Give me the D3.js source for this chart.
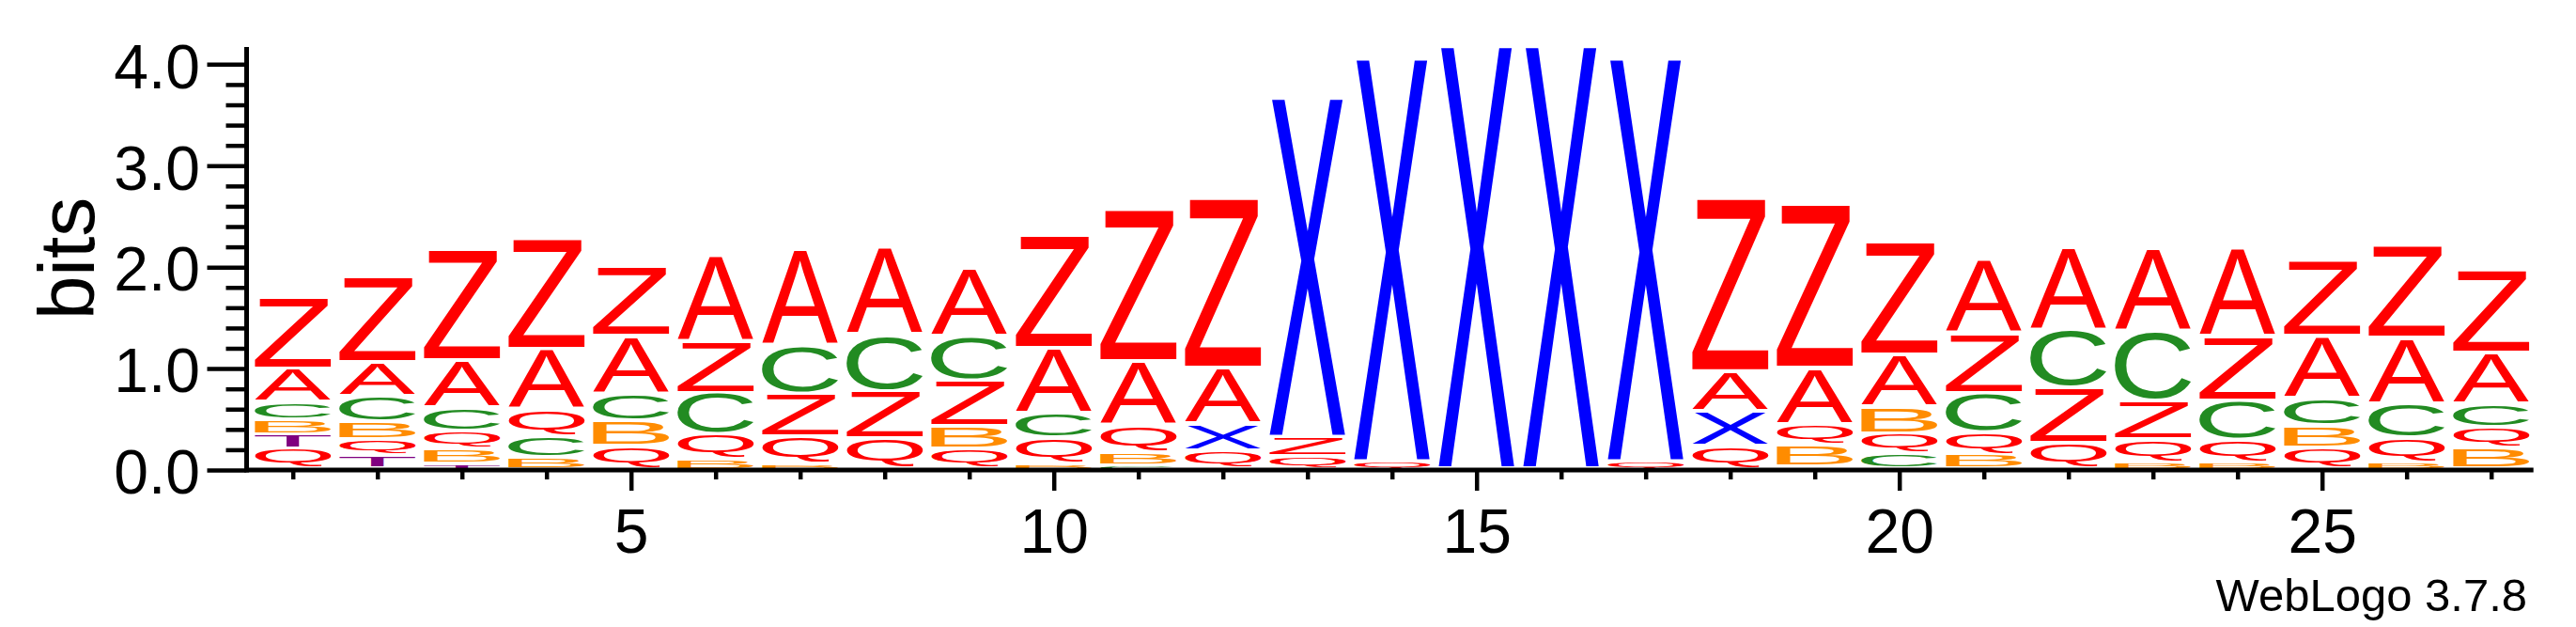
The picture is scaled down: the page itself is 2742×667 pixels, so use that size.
<!DOCTYPE html>
<html>
<head>
<meta charset="utf-8">
<script src="https://cdn.jsdelivr.net/npm/d3@7"></script>
<style>
html,body{margin:0;padding:0;background:#fff;}
svg{display:block;}
</style>
</head>
<body>
<svg id="chart" width="2742" height="667"></svg>
<script>
// ---------- data ----------
const positions = [1,2,3,4,5,6,7,8,9,10,11,12,13,14,15,16,17,18,19,20,21,22,23,24,25,26,27];
// letters of each stack, bottom to top
const stackLetters = [
  "QTBCAZ","TQBCAZ","TBQCAZ","BCQAZ","QBCAZ","BQCZA","BQZCA","QZCA","QBZCA","BQCAZ",
  "CBQAZ","QXAZ","QZX","QX","X","X","QX","QXAZ","CBQAZ","CQBAZ",
  "BQCZA","QZCA","BQZCA","BQCZA","QBCAZ","BQCAZ","BQCAZ"
];
// height (bits) of each letter, bottom to top
const stackBits = [
  [0.20,0.14,0.14,0.175,0.33,0.70],
  [0.13,0.155,0.178,0.25,0.337,0.843],
  [0.05,0.14,0.178,0.234,0.467,1.097],
  [0.111,0.206,0.265,0.594,1.089],
  [0.225,0.246,0.267,0.566,0.69],
  [0.092,0.242,0.411,0.507,0.845],
  [0.04,0.275,0.423,0.479,0.949],
  [0.294,0.472,0.554,0.865],
  [0.194,0.224,0.451,0.435,0.669],
  [0.05,0.25,0.242,0.647,1.12],
  [0.03,0.125,0.27,0.629,1.498],
  [0.177,0.266,0.549,1.675],
  [0.124,0.186,3.349],
  [0.07,3.977],
  [4.17],
  [4.17],
  [0.07,3.977],
  [0.222,0.34,0.395,1.709],
  [0.02,0.212,0.201,0.556,1.615],
  [0.148,0.198,0.266,0.509,1.119],
  [0.139,0.216,0.386,0.587,0.732],
  [0.253,0.544,0.572,0.818],
  [0.06,0.224,0.386,0.683,0.816],
  [0.06,0.224,0.386,0.634,0.874],
  [0.207,0.216,0.266,0.615,0.744],
  [0.06,0.24,0.339,0.649,0.915],
  [0.201,0.207,0.231,0.504,0.819]
];
const yMajorTicks = [0,1,2,3,4];
const yMajorLabels = ["0.0","1.0","2.0","3.0","4.0"];
const yMinorTicks = [0.2,0.4,0.6,0.8,1.2,1.4,1.6,1.8,2.2,2.4,2.6,2.8,3.2,3.4,3.6,3.8];
const xLabelPositions = [5,10,15,20,25];
const yAxisMax = 4.17;
const yTitle = "bits";
const footer = "WebLogo 3.7.8";
const letterColors = {A:"#ff0000",Z:"#ff0000",Q:"#ff0000",C:"#228b22",B:"#ff8c00",X:"#0000ff",T:"#800080"};

// ---------- layout ----------
const FONT = "'Liberation Sans', Arial, Helvetica, sans-serif";
const svg = d3.select("#chart");
const baseY = 500, topY = 50;
const plotL = 266.7, plotR = 2696.7;
const yAxisX = 262.5;

const x = d3.scaleLinear().domain([0.5, positions.length + 0.5]).range([plotL, plotR]);
const y = d3.scaleLinear().domain([0, yAxisMax]).range([baseY, topY]);
const colW = x(2) - x(1);
const letterW = colW * 0.9;

// glyph ink metrics via canvas
const cnv = document.createElement("canvas");
const ctx = cnv.getContext("2d");
const MFS = 200;
ctx.font = MFS + "px 'Liberation Sans'";
const metrics = {};
Object.keys(letterColors).forEach(ch => {
  const m = ctx.measureText(ch);
  metrics[ch] = {
    left: m.actualBoundingBoxLeft, right: m.actualBoundingBoxRight,
    asc: m.actualBoundingBoxAscent, desc: m.actualBoundingBoxDescent
  };
});

// letters
const glyphs = [];
positions.forEach((p, i) => {
  let cum = 0;
  const letters = stackLetters[i].split("");
  letters.forEach((ch, j) => {
    const h = stackBits[i][j];
    const yb = y(cum), yt = y(cum + h);
    cum += h;
    const boxH = yb - yt;
    const gap = Math.min(4, boxH * 0.25);
    glyphs.push({ch, x0: x(p) - letterW / 2, y0: yt, w: letterW, h: boxH - gap});
  });
});

svg.append("g").selectAll("text").data(glyphs).join("text")
  .attr("font-family", FONT)
  .attr("font-size", MFS)
  .attr("fill", d => letterColors[d.ch])
  .attr("transform", d => {
    const m = metrics[d.ch];
    const iw = m.left + m.right, ih = m.asc + m.desc;
    return `translate(${d.x0},${d.y0}) scale(${d.w / iw},${Math.max(d.h, 0.01) / ih}) translate(${m.left},${m.asc})`;
  })
  .text(d => d.ch);

// ---------- axes ----------
const yAxisG = svg.append("g").attr("transform", `translate(${yAxisX},0)`);
yAxisG.call(d3.axisLeft(y).tickValues(yMajorTicks).tickSize(42).tickSizeOuter(0).tickPadding(7.5)
  .tickFormat((d, i) => yMajorLabels[i]));
const yMinorG = svg.append("g").attr("transform", `translate(${yAxisX},0)`);
yMinorG.call(d3.axisLeft(y).tickValues(yMinorTicks).tickSize(22).tickSizeOuter(0).tickFormat(""));
yMinorG.select(".domain").remove();

const xAxisG = svg.append("g").attr("transform", `translate(0,${baseY})`);
xAxisG.call(d3.axisBottom(x).tickValues(positions.filter(p => !xLabelPositions.includes(p)))
  .tickSize(10).tickSizeOuter(0).tickFormat(""));
xAxisG.select(".domain").remove();
const xMajorG = svg.append("g").attr("transform", `translate(0,${baseY})`);
xMajorG.call(d3.axisBottom(x).tickValues(xLabelPositions).tickSize(22).tickSizeOuter(0).tickPadding(19)
  .tickFormat(d3.format("d")));
xMajorG.select(".domain").remove();

// axis lines
svg.append("line").attr("x1", yAxisX).attr("x2", yAxisX).attr("y1", y(yAxisMax)).attr("y2", baseY + 2.5)
  .attr("stroke", "#000").attr("stroke-width", 5);
svg.append("line").attr("x1", yAxisX).attr("x2", plotR).attr("y1", baseY).attr("y2", baseY)
  .attr("stroke", "#000").attr("stroke-width", 5);

[yAxisG, yMinorG, xAxisG, xMajorG].forEach(g => {
  g.selectAll(".tick line").attr("stroke", "#000").attr("stroke-width", 4.5);
  g.selectAll(".tick text").attr("font-family", FONT).attr("font-size", 66).attr("fill", "#000");
});
yAxisG.selectAll(".tick text").attr("dy", "0.375em");
yAxisG.select(".domain").remove();

// titles
svg.append("text")
  .attr("transform", `translate(100,275) rotate(-90)`)
  .attr("text-anchor", "middle")
  .attr("font-family", FONT).attr("font-size", 84)
  .text(yTitle);
svg.append("text")
  .attr("x", 2690).attr("y", 650)
  .attr("text-anchor", "end")
  .attr("font-family", FONT).attr("font-size", 49)
  .text(footer);
</script>
</body>
</html>
